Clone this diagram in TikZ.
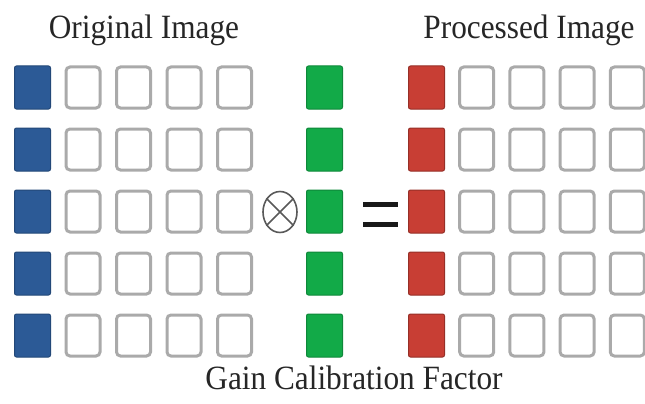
\documentclass[tikz,border=0pt]{standalone}
\usepackage{fontspec}
\setmainfont{Liberation Serif}
\usetikzlibrary{shapes.geometric}
\definecolor{origblue}{RGB}{44,90,150}
\definecolor{gaingreen}{RGB}{18,170,72}
\definecolor{procred}{RGB}{200,62,52}
\definecolor{boxgray}{RGB}{170,170,170}
\begin{document}
\begin{tikzpicture}[x = 1pt, y = -1pt,
                    fnode/.style = {shape = rectangle,
                                    rounded corners = 2pt,
                                    line width = 1pt,
                                    inner sep = 0pt,
                                    minimum width = 36pt,
                                    minimum height = 43pt},
                    bnode/.style = {fnode, fill = origblue, draw = origblue!80!black},
                    gnode/.style = {fnode, fill = gaingreen, draw = gaingreen!80!black},
                    rnode/.style = {fnode, fill = procred, draw = procred!75!black},
                    enode/.style = {shape = rectangle,
                                    rounded corners = 4pt,
                                    draw = boxgray,
                                    line width = 3pt,
                                    inner sep = 0pt,
                                    minimum width = 34pt,
                                    minimum height = 41pt},
                    label/.style = {font = \fontsize{34}{38}\selectfont,
                                    text = black!85,
                                    xscale = 0.92,
                                    inner sep = 0pt}]
		\useasboundingbox (0,0) rectangle (645,404);
		% titles
		\node[label] (orig) at (144,30) {Original Image};
		\node[label] (proc) at (529,30) {Processed Image};
		\node[label] (gain) at (354,378) {Gain Calibration Factor};
		% rows of pixels
		\foreach \r in {1,...,5} {
			\node[bnode] (b\r) at (32.5, 25.5 + 62*\r) {};
			\node[gnode] (g\r) at (324.5, 25.5 + 62*\r) {};
			\node[rnode] (r\r) at (426.5, 25.5 + 62*\r) {};
			\foreach \c in {1,...,4} {
				\node[enode] (o\r\c) at (32.5 + 50.5*\c, 25.5 + 62*\r) {};
				\node[enode] (p\r\c) at (426.5 + 50.2*\c, 25.5 + 62*\r) {};
			}
		}
		% operators
		\node[shape = ellipse, draw = black!65, line width = 1.6pt,
		      inner sep = 0pt, minimum width = 34pt, minimum height = 41pt] (otimes) at (280,212) {};
		\draw[black!65, line width = 1.6pt] (otimes.45) -- (otimes.225);
		\draw[black!65, line width = 1.6pt] (otimes.135) -- (otimes.315);
		\fill[black!90] (363,202) rectangle (398,207);
		\fill[black!90] (363,222) rectangle (398,227);
	\end{tikzpicture}
\end{document}
